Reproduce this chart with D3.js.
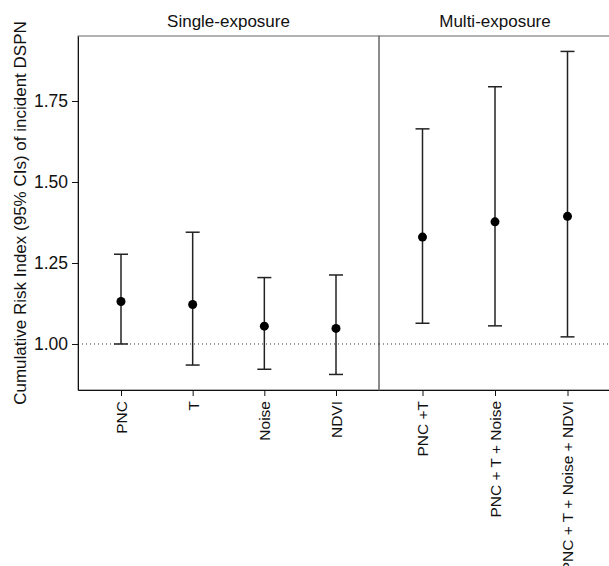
<!DOCTYPE html>
<html>
<head>
<meta charset="utf-8">
<script src="https://cdn.jsdelivr.net/npm/d3@7"></script>
<style>
  body { margin: 0; background: #fff; }
  svg { font-family: "Liberation Sans", Arial, sans-serif; }
</style>
</head>
<body>
<svg id="chart"></svg>
<script>
// valores
const singleCats = ["PNC", "T", "Noise", "NDVI"];
const singleEst  = [1.131, 1.122, 1.055, 1.048];
const singleLow  = [1.000, 0.935, 0.922, 0.906];
const singleHigh = [1.277, 1.345, 1.205, 1.213];

const multiCats = ["PNC +T", "PNC + T + Noise", "PNC + T + Noise + NDVI"];
const multiEst  = [1.330, 1.377, 1.394];
const multiLow  = [1.064, 1.056, 1.022];
const multiHigh = [1.664, 1.794, 1.903];

const facetTitles = ["Single-exposure", "Multi-exposure"];
const yTicks = [1.00, 1.25, 1.50, 1.75];
const refValue = 1.00;
const yTitle = "Cumulative Risk Index (95% CIs) of incident DSPN";

const width = 609;
const height = 566;
const plotTop = 36, plotBottom = 390;
const panels = [
  { x0: 78,  x1: 379, title: facetTitles[0], cats: singleCats, est: singleEst, low: singleLow, high: singleHigh },
  { x0: 379, x1: 611, title: facetTitles[1], cats: multiCats,  est: multiEst,  low: multiLow,  high: multiHigh }
];

const svg = d3.select("#chart")
  .attr("width", width)
  .attr("height", height);

const yScale = d3.scaleLinear()
  .domain([0.858, 1.9506])
  .range([plotBottom, plotTop]);

panels.forEach(p => {
  const xScale = d3.scalePoint()
    .domain(p.cats)
    .range([p.x0, p.x1])
    .padding(0.6);

  const g = svg.append("g");

  // borde del panel
  g.append("rect")
    .attr("x", p.x0)
    .attr("y", plotTop)
    .attr("width", p.x1 - p.x0)
    .attr("height", plotBottom - plotTop)
    .attr("fill", "none")
    .attr("stroke", "#666")
    .attr("stroke-width", 1);

  // linea de referencia
  g.append("line")
    .attr("x1", p.x0).attr("x2", p.x1)
    .attr("y1", yScale(refValue)).attr("y2", yScale(refValue))
    .attr("stroke", "#333")
    .attr("stroke-width", 1)
    .attr("stroke-dasharray", "1,3");

  const rows = p.cats.map((c, i) => ({ cat: c, est: p.est[i], low: p.low[i], high: p.high[i] }));

  // barras de error
  g.selectAll(".bar")
    .data(rows)
    .enter()
    .append("line")
    .attr("x1", d => xScale(d.cat)).attr("x2", d => xScale(d.cat))
    .attr("y1", d => yScale(d.low)).attr("y2", d => yScale(d.high))
    .attr("stroke", "#222")
    .attr("stroke-width", 1.5);

  ["low", "high"].forEach(k => {
    g.selectAll(".cap-" + k)
      .data(rows)
      .enter()
      .append("line")
      .attr("x1", d => xScale(d.cat) - 7).attr("x2", d => xScale(d.cat) + 7)
      .attr("y1", d => yScale(d[k])).attr("y2", d => yScale(d[k]))
      .attr("stroke", "#222")
      .attr("stroke-width", 1.5);
  });

  g.selectAll("circle")
    .data(rows)
    .enter()
    .append("circle")
    .attr("cx", d => xScale(d.cat))
    .attr("cy", d => yScale(d.est))
    .attr("r", 4.5)
    .attr("fill", "#000");

  // titulo de faceta
  svg.append("text")
    .attr("x", (p.x0 + p.x1) / 2)
    .attr("y", 27)
    .attr("text-anchor", "middle")
    .attr("font-size", 17)
    .attr("fill", "#111")
    .text(p.title);

  // eje x
  const xAxis = d3.axisBottom(xScale).tickSize(6).tickSizeOuter(0);
  const gx = svg.append("g")
    .attr("transform", `translate(0, ${plotBottom})`)
    .call(xAxis);
  gx.select(".domain").attr("stroke", "#111");
  gx.selectAll(".tick line").attr("stroke", "#111");
  gx.selectAll(".tick text")
    .attr("font-size", 15.5)
    .attr("fill", "#111")
    .attr("text-anchor", "end")
    .attr("transform", "rotate(-90)")
    .attr("x", -11)
    .attr("y", 0)
    .attr("dy", "0.35em");
});

// eje y
const yAxis = d3.axisLeft(yScale)
  .tickValues(yTicks)
  .tickFormat(d3.format(".2f"))
  .tickSize(6)
  .tickSizeOuter(0);

const gy = svg.append("g")
  .attr("transform", `translate(78, 0)`)
  .call(yAxis);
gy.select(".domain").attr("stroke", "#111");
gy.selectAll(".tick line").attr("stroke", "#111");
gy.selectAll(".tick text")
  .attr("font-size", 17.5)
  .attr("fill", "#111")
  .attr("x", -10);

svg.append("text")
  .attr("transform", `translate(26, ${(plotTop + plotBottom) / 2}) rotate(-90)`)
  .attr("text-anchor", "middle")
  .attr("font-size", 17)
  .attr("fill", "#111")
  .text(yTitle);
</script>
</body>
</html>
